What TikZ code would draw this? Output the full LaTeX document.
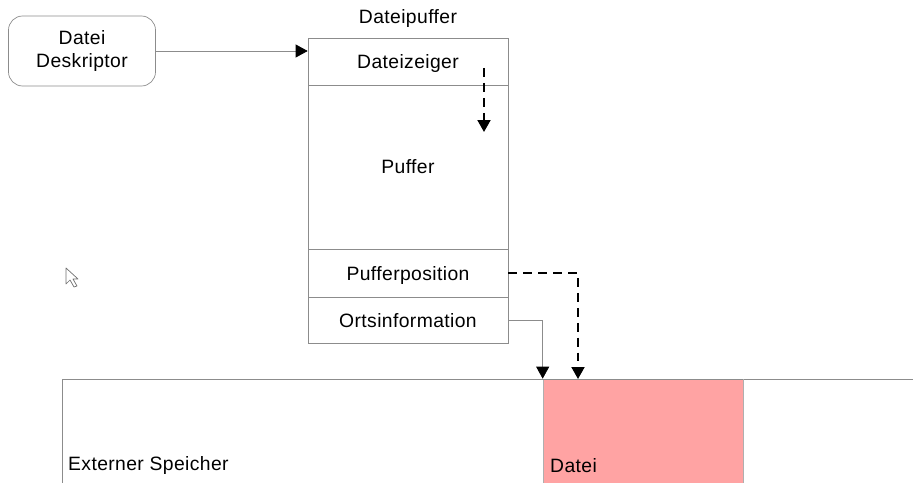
\documentclass[tikz,border=0pt]{standalone}
\usepackage{fontspec}
\setmainfont[LetterSpace=2]{Liberation Sans}
\usepackage{xcolor}
\usepackage{tikz}
\usetikzlibrary{arrows.meta}

\definecolor{rahmen}{HTML}{8C8C8C}
\definecolor{dateirot}{HTML}{FFA3A3}

\begin{document}
\begin{tikzpicture}[x=0.02cm, y=-0.02cm,
  every node/.style={font=\fontsize{11}{13.5}\selectfont},
  fach/.style={draw=rahmen, minimum width=4cm, inner sep=0pt,
               text depth=0pt},
  pfeil/.style={-{Triangle[length=0.24cm, width=0.26cm, color=black]}},
  zeigerpfeil/.style={pfeil, black, line width=1.1pt,
                      dash pattern=on 5pt off 3.5pt}]
  \useasboundingbox (0,0) rectangle (913,483);

  % Deskriptor
  \node[draw=rahmen, rounded corners=8pt, minimum width=2.94cm,
        minimum height=1.4cm, align=center] (desk) at (82,51)
    {Datei\\Deskriptor};

  % Dateipuffer
  \node[text depth=0pt] (titel) at (408,17) {Dateipuffer};
  \node[fach, minimum height=0.94cm] (zeiger) at (408,61.5) {Dateizeiger};
  \node[fach, minimum height=3.28cm] (puffer) at (408,167) {Puffer};
  \node[fach, minimum height=0.96cm] (pos) at (408,273) {Pufferposition};
  \node[fach, minimum height=0.92cm] (ort) at (408,320) {Ortsinformation};

  \draw[pfeil, rahmen] (desk) -- (zeiger.west |- desk);

  \coordinate (zs) at (484,68);
  \coordinate (ze) at (484,132);
  \draw[zeigerpfeil] (zs) -- (ze);

  % Externer Speicher
  \draw[rahmen] (62,483) -- (62,379) -- (913,379);
  \node[anchor=west] (speicher) at (62,466) {Externer Speicher};
  \node[fill=dateirot, draw=rahmen!70, minimum width=4cm,
        minimum height=2.08cm, inner sep=0pt] (datei) at (643,431) {};
  \node[anchor=west] (dateitext) at (544,466) {Datei};
  \draw[rahmen] (543,379) -- (743,379);

  \coordinate (ortziel) at (datei.north west);
  \coordinate (posziel) at (578,379);
  \draw[pfeil, rahmen] (ort.east) -| (ortziel);
  \draw[zeigerpfeil] (pos.east) -| (posziel);

  % Mauszeiger
  \draw[rahmen!80!black, fill=white, line join=round]
    (66,268) -- (66,284) -- (70,280) -- (74,287) -- (77,286)
    -- (73,279) -- (78,279) -- cycle;
\end{tikzpicture}
\end{document}
